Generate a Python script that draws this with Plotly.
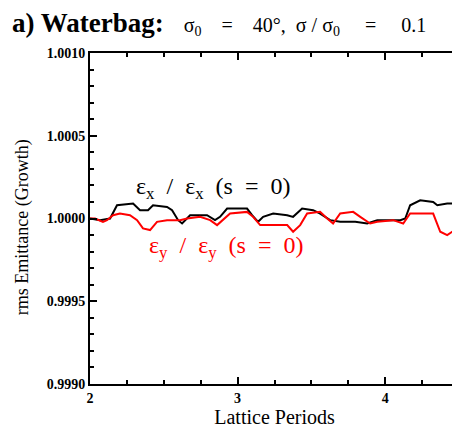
import plotly.graph_objects as go

# Black curve: horizontal emittance ratio
ex_periods = [2.000, 2.068, 2.136, 2.183, 2.292, 2.319, 2.339, 2.393, 2.427, 2.522, 2.556, 2.597,
              2.624, 2.678, 2.793, 2.847, 2.881, 2.929, 3.064, 3.098, 3.139, 3.173, 3.241, 3.336,
              3.376, 3.437, 3.512, 3.559, 3.627, 3.695, 3.797, 3.878, 3.946, 4.102, 4.136, 4.169,
              4.237, 4.325, 4.353, 4.420, 4.508]
ex_ratio = [1.00000, 0.99999, 1.00000, 1.00008, 1.00009, 1.00007, 1.00005, 1.00005, 1.00008, 1.00007,
            1.00005, 0.99999, 0.99997, 1.00002, 1.00002, 0.99999, 1.00001, 1.00006, 1.00006, 1.00002,
            0.99998, 1.00001, 1.00003, 1.00002, 1.00001, 1.00006, 1.00005, 1.00003, 0.99999, 0.99998,
            0.99998, 0.99997, 0.99999, 0.99999, 1.00000, 1.00008, 1.00011, 1.00010, 1.00008, 1.00009,
            1.00009]

# Red curve: vertical emittance ratio
ey_periods = [2.000, 2.034, 2.088, 2.115, 2.156, 2.203, 2.271, 2.319, 2.359, 2.407, 2.454, 2.522,
              2.610, 2.658, 2.746, 2.814, 2.861, 2.902, 2.949, 3.064, 3.105, 3.153, 3.336, 3.376,
              3.424, 3.471, 3.559, 3.607, 3.647, 3.695, 3.783, 3.831, 3.898, 3.946, 4.054, 4.122,
              4.169, 4.325, 4.373, 4.420, 4.488, 4.508]
ey_ratio = [1.00000, 1.00000, 0.99998, 0.99999, 1.00002, 1.00003, 1.00002, 0.99999, 0.99994, 0.99993,
            0.99998, 0.99999, 0.99999, 1.00000, 1.00001, 0.99999, 0.99996, 0.99999, 1.00003, 1.00004,
            1.00001, 0.99996, 0.99996, 0.99992, 0.99996, 1.00003, 1.00004, 1.00000, 0.99997, 1.00003,
            1.00004, 1.00001, 0.99997, 0.99998, 0.99999, 0.99997, 1.00003, 1.00003, 0.99992, 0.99990,
            0.99994, 0.99994]

y_ticks = [0.9990, 0.9995, 1.0000, 1.0005, 1.0010]
x_ticks = [2, 3, 4]

serif = "Liberation Serif, Times New Roman, serif"

fig = go.Figure()
fig.add_trace(go.Scatter(x=ex_periods, y=ex_ratio, mode="lines",
                         line=dict(color="black", width=2), showlegend=False))
fig.add_trace(go.Scatter(x=ey_periods, y=ey_ratio, mode="lines",
                         line=dict(color="red", width=2), showlegend=False))

axis_common = dict(showline=True, linecolor="black", linewidth=2, mirror="ticks",
                   ticks="inside", tickcolor="black", tickwidth=2, ticklen=7,
                   showgrid=False, zeroline=False, automargin=False,
                   tickfont=dict(family=serif, size=14, color="black", weight="bold"))

fig.update_xaxes(range=[2, 4.5], tickvals=x_ticks,
                 minor=dict(ticks="inside", dtick=0.25, tick0=2, ticklen=4, tickwidth=2, tickcolor="black"),
                 title=dict(text="Lattice Periods", font=dict(family=serif, size=20, color="black"), standoff=4),
                 **axis_common)
fig.update_yaxes(range=[0.9990, 1.0010], tickvals=y_ticks, tickformat=".4f",
                 minor=dict(ticks="inside", dtick=0.0001, tick0=0.999, ticklen=4, tickwidth=2, tickcolor="black"),
                 **axis_common)

fig.add_annotation(xref="paper", yref="paper", x=-0.184, y=0.474, textangle=-90,
                   xanchor="center", yanchor="middle",
                   text="rms Emittance (Growth)", showarrow=False,
                   font=dict(family=serif, size=18, color="black"))
fig.add_annotation(x=2.83, y=1.000184, text="ε<sub>x</sub>  /  ε<sub>x</sub>  (s  =  0)", showarrow=False,
                   font=dict(family=serif, size=24, color="black"))
fig.add_annotation(x=2.92, y=0.999827, text="ε<sub>y</sub>  /  ε<sub>y</sub>  (s  =  0)", showarrow=False,
                   font=dict(family=serif, size=24, color="red"))
fig.add_annotation(xref="paper", yref="paper", x=-0.217, y=1.035, xanchor="left", yanchor="bottom",
                   text="<b>a) Waterbag:</b><span style='font-size:20px'>    σ<sub>0</sub>    =    40°,  σ / σ<sub>0</sub>     =     0.1</span>",
                   showarrow=False, font=dict(family=serif, size=27, color="black"))

fig.update_layout(width=460, height=433, margin=dict(l=82, r=9, t=45, b=57),
                  plot_bgcolor="white", paper_bgcolor="white")

fig.write_html("out.html")
